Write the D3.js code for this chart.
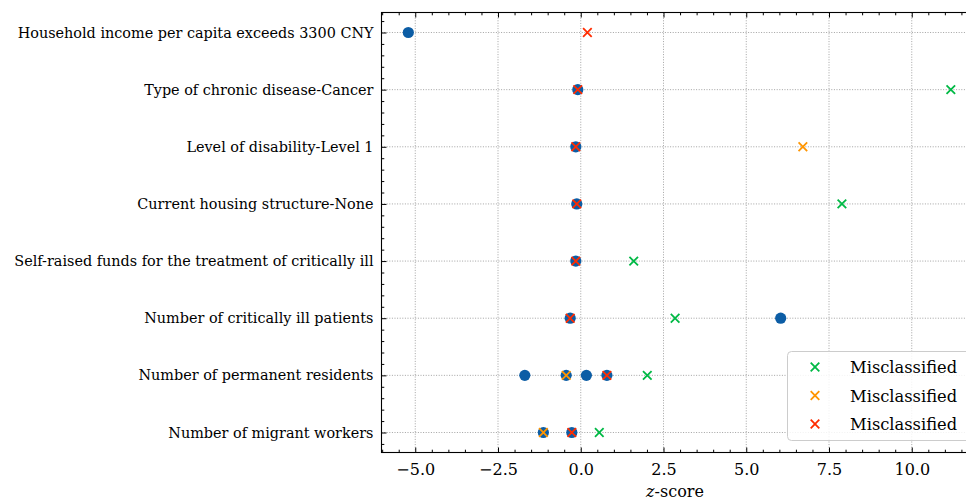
<!DOCTYPE html>
<html lang="en">
<head>
  <meta charset="UTF-8">
  <title>z-score plot</title>
  <script src="https://d3js.org/d3.v7.min.js"></script>
  <style type="text/css">
    body { margin: 0; background: #fff; }
    svg text { font-family: "DejaVu Serif", "Liberation Serif", serif; fill: #000; }
  </style>
</head>
<body>
<script type="text/javascript">
  // categories, bottom (0) to top (7)
  var features = [
    "Number of migrant workers",
    "Number of permanent residents",
    "Number of critically ill patients",
    "Self-raised funds for the treatment of critically ill",
    "Current housing structure-None",
    "Level of disability-Level 1",
    "Type of chronic disease-Cancer",
    "Household income per capita exceeds 3300 CNY"
  ];

  // blue circles: [row, z]
  var baseRow = [7, 6, 5, 4, 3, 2, 2, 1, 1, 1, 1, 0, 0];
  var baseZ   = [-5.21, -0.09, -0.15, -0.12, -0.15, -0.32, 6.04, -1.69, -0.44, 0.17, 0.79, -1.13, -0.27];

  // misclassified samples
  var greenRow = [6, 4, 3, 2, 1, 0];
  var greenZ   = [11.18, 7.89, 1.60, 2.85, 2.01, 0.56];
  var orangeRow = [5, 1, 0];
  var orangeZ   = [6.71, -0.44, -1.13];
  var redRow = [7, 6, 5, 4, 3, 2, 1, 0];
  var redZ   = [0.20, -0.09, -0.15, -0.12, -0.15, -0.32, 0.79, -0.27];

  var xMajor = [-5, -2.5, 0, 2.5, 5, 7.5, 10];
  var legendLabels = ["Misclassified", "Misclassified", "Misclassified"];
  var colors = ["#00B945", "#FF9500", "#FF2C00"];

  drawChart();

  function drawChart() {
    var W = 966, H = 500;
    var pLeft = 381.5, pTop = 12.5, pBottom = 452.5;

    var svg = d3.select("body").append("svg")
                .attr("width", W)
                .attr("height", H);

    var x = d3.scaleLinear().domain([-6.02, 12.02]).range([pLeft, pLeft + 18.04 * 33.1]);
    var pRight = x.range()[1];
    var y = d3.scaleLinear().domain([-0.35, 7.35]).range([pBottom, pTop]);

    var grid = svg.append("g")
      .attr("stroke", "#8c8c8c")
      .attr("stroke-width", 0.8)
      .attr("stroke-dasharray", "1,1.6");
    grid.selectAll(".gx").data(xMajor).enter().append("line")
      .attr("x1", function(d){ return x(d); }).attr("x2", function(d){ return x(d); })
      .attr("y1", pTop).attr("y2", pBottom);
    grid.selectAll(".gy").data(d3.range(features.length)).enter().append("line")
      .attr("y1", function(d){ return y(d); }).attr("y2", function(d){ return y(d); })
      .attr("x1", pLeft).attr("x2", pRight);

    // axes with inward ticks
    var fmt = function(d){ return d3.format(".1f")(d).replace("-", "\u2212"); };
    var xMinor = d3.range(-6, 12.01, 0.5).filter(function(d){ return xMajor.indexOf(d) < 0; });
    var yMinor = d3.range(-0.2, 7.3, 0.2).map(function(d){ return Math.round(d * 10) / 10; })
                   .filter(function(d){ return Math.abs(d - Math.round(d)) > 0.01; });

    var gx = svg.append("g").attr("transform", "translate(0," + pBottom + ")")
      .call(d3.axisBottom(x).tickValues(xMajor).tickSizeInner(-5).tickSizeOuter(0).tickPadding(11).tickFormat(fmt));
    gx.selectAll("text").style("font-size", "16px");
    svg.append("g").attr("transform", "translate(0," + pBottom + ")")
      .call(d3.axisBottom(x).tickValues(xMinor).tickSizeInner(-2.8).tickSizeOuter(0).tickFormat(""));
    svg.append("g").attr("transform", "translate(0," + pTop + ")")
      .call(d3.axisTop(x).tickValues(xMajor).tickSizeInner(-5).tickSizeOuter(0).tickFormat(""));
    svg.append("g").attr("transform", "translate(0," + pTop + ")")
      .call(d3.axisTop(x).tickValues(xMinor).tickSizeInner(-2.8).tickSizeOuter(0).tickFormat(""));

    var gy = svg.append("g").attr("transform", "translate(" + pLeft + ",0)")
      .call(d3.axisLeft(y).tickValues(d3.range(features.length)).tickSizeInner(-5).tickSizeOuter(0)
        .tickPadding(8).tickFormat(function(d){ return features[d]; }));
    gy.selectAll("text").style("font-size", "14.4px");
    svg.append("g").attr("transform", "translate(" + pLeft + ",0)")
      .call(d3.axisLeft(y).tickValues(yMinor).tickSizeInner(-2.8).tickSizeOuter(0).tickFormat(""));

    svg.selectAll(".domain").remove();
    svg.selectAll(".tick line").attr("stroke", "#000").attr("stroke-width", 1);

    // spines
    svg.append("rect")
      .attr("x", pLeft).attr("y", pTop)
      .attr("width", pRight - pLeft).attr("height", pBottom - pTop)
      .attr("fill", "none").attr("stroke", "#000").attr("stroke-width", 1.1);

    svg.append("text")
      .attr("x", 675).attr("y", 497)
      .attr("text-anchor", "middle")
      .style("font-size", "16px")
      .html('<tspan font-style="italic">z</tspan>-score');

    // points
    svg.append("g").selectAll("circle").data(baseZ).enter().append("circle")
      .attr("cx", function(d){ return x(d); })
      .attr("cy", function(d, i){ return y(baseRow[i]); })
      .attr("r", 5.6)
      .attr("fill", "#0C5DA5");

    var series = [[greenRow, greenZ], [orangeRow, orangeZ], [redRow, redZ]];
    var mg = svg.append("g");
    series.forEach(function(s, k){
      s[1].forEach(function(v, i){
        cross(mg, x(v), y(s[0][i]), 4.3, colors[k]);
      });
    });

    // legend
    var lg = svg.append("g");
    lg.append("rect")
      .attr("x", 787.5).attr("y", 351.5).attr("width", 200).attr("height", 89)
      .attr("rx", 4)
      .attr("fill", "#fff").attr("fill-opacity", 0.85)
      .attr("stroke", "#cccccc").attr("stroke-width", 1);
    legendLabels.forEach(function(t, i){
      var cy = 367 + i * 28.5;
      cross(lg, 815, cy, 4.3, colors[i]);
      lg.append("text")
        .attr("x", 850).attr("y", cy + 6)
        .style("font-size", "16.3px")
        .text(t);
    });
  }

  function cross(g, cx, cy, s, color) {
    g.append("path")
      .attr("d", "M" + (cx - s) + "," + (cy - s) + "L" + (cx + s) + "," + (cy + s) +
                 "M" + (cx - s) + "," + (cy + s) + "L" + (cx + s) + "," + (cy - s))
      .attr("stroke", color).attr("stroke-width", 1.8).attr("fill", "none");
  }
</script>
</body>
</html>
